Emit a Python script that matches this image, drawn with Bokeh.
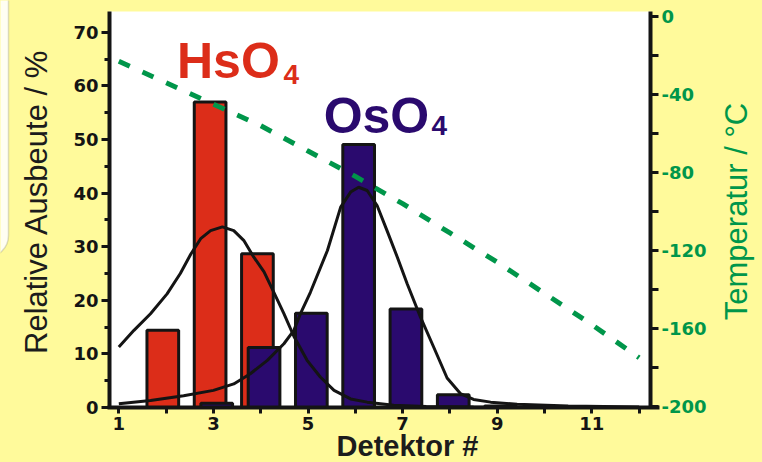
import math
from bokeh.plotting import figure
from bokeh.models import (Range1d, LinearAxis, FixedTicker, Label, BoxAnnotation,
                          ColumnDataSource, PrintfTickFormatter)
from bokeh.transform import dodge
from bokeh.embed import file_html
from bokeh.resources import INLINE

# ---------------- data ----------------
hso4_det = [2, 3, 4]
hso4_yield = [14.4, 57.0, 28.7]

oso4_det = [3, 4, 5, 6, 7, 8, 9]
oso4_yield = [0.8, 11.2, 17.6, 49.1, 18.4, 2.4, 0.3]

temp_det = [1, 2, 3, 4, 5, 6, 7, 8, 9, 10, 11, 12]
temperature = [-23, -34, -45, -56, -69, -82, -96, -111, -126, -142, -158, -175]

hso4_fit_x = [1.00, 1.32, 1.67, 2.02, 2.30, 2.52, 2.73, 2.94, 3.19, 3.43, 3.64,
              3.85, 4.07, 4.26, 4.49, 4.70, 4.98, 5.26, 5.55, 5.90, 6.25, 6.81,
              7.50, 8.50, 9.40]
hso4_fit_y = [11.3, 14.4, 17.5, 21.2, 25.0, 28.6, 31.5, 33.0, 33.7, 33.0, 31.2,
              28.1, 25.3, 21.8, 17.5, 13.3, 8.8, 5.7, 3.2, 1.6, 1.0, 0.4,
              0.2, 0.1, 0.05]

oso4_fit_x = [1.00, 1.67, 2.37, 3.00, 3.43, 3.78, 4.14, 4.49, 4.70, 4.84, 5.05,
              5.41, 5.69, 5.90, 6.07, 6.25, 6.46, 6.67, 6.89, 7.10, 7.38, 7.66,
              7.94, 8.22, 8.50, 8.86, 9.42, 10.50, 12.00]
oso4_fit_y = [0.7, 1.3, 2.2, 3.2, 4.4, 6.3, 8.8, 11.9, 14.4, 17.5, 21.5,
              29.3, 37.4, 40.2, 41.1, 40.5, 37.7, 33.0, 28.0, 23.0, 16.8, 11.2,
              5.5, 2.6, 1.5, 1.0, 0.6, 0.3, 0.1]

x_major_ticks = [1, 3, 5, 7, 9, 11]
x_minor_ticks = [2, 4, 6, 8, 10, 12]
y_major_ticks = [0, 10, 20, 30, 40, 50, 60, 70]
y_minor_ticks = [5, 15, 25, 35, 45, 55, 65]
t_major_ticks = [0, -40, -80, -120, -160, -200]
t_minor_ticks = [-20, -60, -100, -140, -180]

x_title = "Detektor #"
y_title = "Relative Ausbeute / %"
t_title = "Temperatur / °C"

# ---------------- layout / styles ----------------
W, H = 762, 462
FR_L, FR_R, FR_T, FR_B = 109, 650, 11, 407      # data-area edges on the page
X_LO, X_HI = 0.803, 12.24                       # detector range of the data area
Y_LO, Y_HI = 0.0, 73.9                          # yield range of the data area
T_LO, T_HI = -200.5, 2.56                       # temperature range of the data area

YEL = "#FFFA9B"
RED = "#DC2D19"
BLUE = "#2A0A6E"
GREEN = "#00964A"
INK = "#141414"
SANS = "Liberation Sans"

# whole-canvas ranges so that the data area lands at FR_* on the page
xs = (X_HI - X_LO) / (FR_R - FR_L)
ys = (Y_HI - Y_LO) / (FR_B - FR_T)
ts = (T_HI - T_LO) / (FR_B - FR_T)
x_range = Range1d(X_LO - FR_L * xs, X_HI + (W - FR_R) * xs)
y_range = Range1d(Y_LO - (H - FR_B) * ys, Y_HI + FR_T * ys)
t_range = Range1d(T_LO - (H - FR_B) * ts, T_HI + FR_T * ts)

p = figure(width=W, height=H, x_range=x_range, y_range=y_range,
           x_axis_type=None, y_axis_type=None,
           output_backend="svg", toolbar_location=None,
           min_border=0, min_border_left=0, min_border_right=0,
           min_border_top=0, min_border_bottom=0,
           background_fill_color=YEL, border_fill_color=YEL,
           outline_line_color=None)
p.title.visible = False
p.extra_y_ranges = {"temp": t_range}

# white data area
p.add_layout(BoxAnnotation(left=X_LO, right=X_HI, bottom=Y_LO, top=Y_HI,
                           fill_color="white", fill_alpha=1.0,
                           line_color=None, level="underlay"))
# slide frame remnant at the left edge
p.add_layout(BoxAnnotation(left=-40, right=8, bottom=H - 257, top=H + 40,
                           left_units="screen", right_units="screen",
                           bottom_units="screen", top_units="screen",
                           fill_color="#FFFEF2", fill_alpha=1.0,
                           line_color="#8a8a7a", line_width=1.5,
                           border_radius=22, level="underlay"))

def style_axis(ax, tick_out, minor_out):
    ax.axis_line_width = 4
    ax.axis_line_color = INK
    ax.major_tick_line_width = 3
    ax.minor_tick_line_width = 3
    ax.major_tick_line_color = INK
    ax.minor_tick_line_color = INK
    ax.major_tick_in = 0
    ax.minor_tick_in = 0
    ax.major_tick_out = tick_out
    ax.minor_tick_out = minor_out
    ax.major_label_text_font = "DejaVu Sans"
    ax.major_label_text_font_style = "bold"
    ax.major_label_text_font_size = "18px"
    ax.major_label_text_color = INK
    ax.major_label_standoff = 3
    ax.formatter = PrintfTickFormatter(format="%d")

xa = LinearAxis(fixed_location=Y_LO, bounds=(X_LO - 2 * xs, X_HI + 9 * xs),
                ticker=FixedTicker(ticks=x_major_ticks, minor_ticks=x_minor_ticks))
style_axis(xa, 6, 6)
p.add_layout(xa, "below")

ya = LinearAxis(fixed_location=X_LO, bounds=(Y_LO, Y_HI),
                ticker=FixedTicker(ticks=y_major_ticks, minor_ticks=y_minor_ticks))
style_axis(ya, 8, 5)
p.add_layout(ya, "left")

ta = LinearAxis(y_range_name="temp", fixed_location=X_HI, bounds=(T_LO, T_HI),
                ticker=FixedTicker(ticks=t_major_ticks, minor_ticks=t_minor_ticks))
style_axis(ta, 8, 8)
ta.major_label_text_color = GREEN
p.add_layout(ta, "right")

# ---------------- bars ----------------
src_h = ColumnDataSource(dict(det=hso4_det, y=hso4_yield))
src_o = ColumnDataSource(dict(det=oso4_det, y=oso4_yield))
p.vbar(x=dodge("det", -0.07, range=p.x_range), top="y", bottom=0, width=0.67,
       source=src_h, fill_color=RED, line_color=INK, line_width=3)
p.vbar(x=dodge("det", 0.07, range=p.x_range), top="y", bottom=0, width=0.67,
       source=src_o, fill_color=BLUE, line_color=INK, line_width=3)

# ---------------- fit curves ----------------
p.line(hso4_fit_x, hso4_fit_y, line_color=INK, line_width=3)
p.line(oso4_fit_x, oso4_fit_y, line_color=INK, line_width=3)

# ---------------- temperature ----------------
p.line(temp_det, temperature, y_range_name="temp", line_color=GREEN,
       line_width=5, line_dash="12 14")

# ---------------- species labels ----------------
def species(x, y, text, color, size):
    p.add_layout(Label(x=x, y=y, text=text, text_color=color,
                       text_font=SANS, text_font_style="bold",
                       text_font_size=size, text_baseline="alphabetic"))

species(2.23, 64.7, "HsO", RED, "50px")
species(4.48, 62.2, "4", RED, "28px")
species(5.33, 54.4, "OsO", BLUE, "50px")
species(7.61, 52.6, "4", BLUE, "28px")

# ---------------- axis titles ----------------
def title(x, y, text, color, size, angle=0.0, style="normal"):
    p.add_layout(Label(x=x, y=y, x_units="screen", y_units="screen",
                       text=text, angle=angle, text_align="center",
                       text_baseline="alphabetic", text_color=color,
                       text_font=SANS, text_font_style=style,
                       text_font_size=size))

title(48 - 0.4 * 31, H - 201, y_title, "#1c1c1c", "31px", angle=math.pi / 2)
title(748 - 0.4 * 31, H - 211, t_title, GREEN, "31px", angle=math.pi / 2)
title(407, H - (457 - 0.4 * 29), x_title, "#1c1c1c", "29px", style="bold")

html = file_html(p, INLINE, title="Detektor")
html = html.replace("</head>",
                    "<style>html,body{margin:0 !important;padding:0 !important;"
                    "background:" + YEL + ";overflow:hidden;}</style></head>", 1)
open("out.html", "w").write(html)
